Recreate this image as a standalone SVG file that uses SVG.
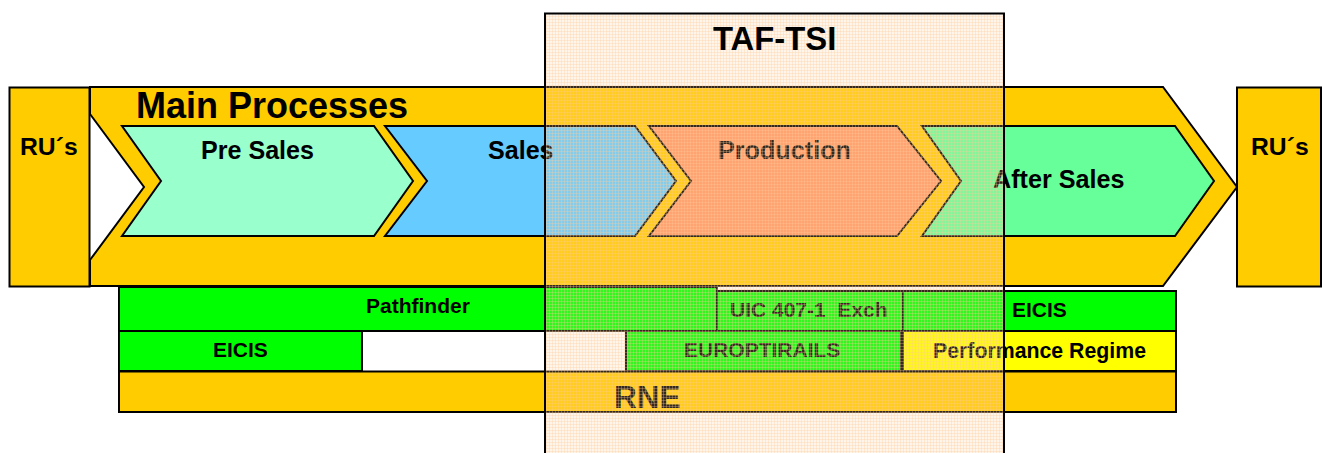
<svg xmlns="http://www.w3.org/2000/svg" width="1322" height="453" viewBox="0 0 1322 453">
<style>
text{font-family:"Liberation Sans",Arial,sans-serif;font-weight:bold;fill:#000}
.s{stroke:#000;stroke-width:2;stroke-linejoin:miter}
.o{fill:#fc0}.g{fill:#0f0}
</style>
<defs>
<pattern id="dither" width="3" height="3" patternUnits="userSpaceOnUse">
<rect width="3" height="3" fill="#ffcc99" fill-opacity=".2"/>
<rect width="1" height="3" fill="#ffcc99" fill-opacity=".3"/>
<rect y="1" width="3" height="1" fill="#ffcc99" fill-opacity=".3"/>
</pattern>
</defs>
<rect width="1322" height="453" fill="#fff"/>
<g id="main-processes">
<polygon class="s o" points="90,87 1163,87 1237,187 1163,286 90,286 90,260 144,187 90,114"/>
<text x="136" y="118" font-size="36">Main Processes</text>
</g>
<g id="ru-left"><rect class="s o" x="9.500" y="87.500" width="80" height="199"/><text x="20" y="154.500" font-size="24.700">RU´s</text></g>
<g id="ru-right"><rect class="s o" x="1237" y="87.500" width="84" height="199"/><text x="1251" y="154.500" font-size="24.700">RU´s</text></g>
<g id="pre-sales"><polygon class="s" fill="#9fc" points="122,126 374,126 413,181 374,236 122,236 161,181"/><text x="201" y="158.500" font-size="25.100">Pre Sales</text></g>
<g id="sales"><polygon class="s" fill="#6cf" points="385,126 635,126 676,181 635,236 385,236 427,181"/><text x="488" y="158.500" font-size="25.100">Sales</text></g>
<g id="production"><polygon class="s" fill="#ff9966" points="649,126 897,126 941,181 897,236 649,236 691,181"/><text x="718" y="158.500" font-size="25.200">Production</text></g>
<g id="after-sales"><polygon class="s" fill="#6f9" points="922,126 1175,126 1214,181 1175,236 922,236 961,181"/><text x="993" y="187.500" font-size="25.200">After Sales</text></g>
<g id="pathfinder"><polygon class="s g" points="119,287 717,287 717,331 119,331"/><text x="366" y="312.500" font-size="21">Pathfinder</text></g>
<g id="uic"><rect class="s g" x="717" y="291" width="186" height="40"/><text x="730" y="316.500" font-size="21" xml:space="preserve">UIC 407-1  Exch</text></g>
<g id="eicis-right"><rect class="s g" x="903" y="291" width="273" height="40"/><text x="1012" y="316.500" font-size="21">EICIS</text></g>
<g id="eicis-left"><rect class="s g" x="119" y="331" width="243" height="40"/><text x="213" y="356.500" font-size="21">EICIS</text></g>
<g id="europtirails"><rect class="s g" x="626" y="331" width="275" height="40"/><text x="684" y="356.500" font-size="21">EUROPTIRAILS</text></g>
<g id="performance-regime"><rect class="s" fill="#ff0" x="903" y="331" width="273" height="40"/><text x="933" y="358" font-size="21.300">Performance Regime</text></g>
<g id="rne"><rect class="s o" x="119" y="371.500" width="1057" height="40.500"/><text x="614" y="408" font-size="31.500">RNE</text></g>
<g id="taf-tsi">
<rect x="545" y="13.500" width="459" height="441" fill="url(#dither)" stroke="#000" stroke-width="2"/>
<text x="713" y="50" font-size="32.800">TAF-TSI</text>
</g>
</svg>
